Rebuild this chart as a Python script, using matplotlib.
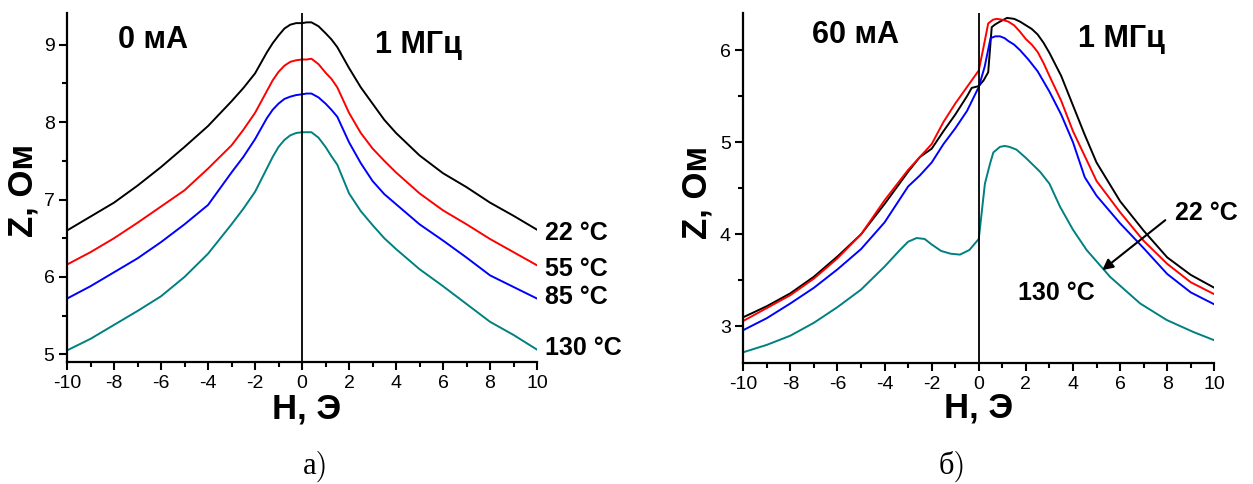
import matplotlib
matplotlib.use("Agg")
import matplotlib.pyplot as plt
from matplotlib.ticker import MultipleLocator

plt.rcParams["font.family"] = ["Liberation Sans", "DejaVu Sans"]
plt.rcParams["axes.unicode_minus"] = False

# panel a: 0 mA, 1 MHz
h_a = [-10, -9, -8, -7, -6, -5, -4, -3, -2.5, -2, -1.5, -1.25, -1, -0.75, -0.5, -0.25, 0,
       0.2, 0.4, 0.7, 1, 1.25, 1.5, 2, 2.5, 3, 3.5, 4, 5, 6, 7, 8, 9, 10]
z_a_22 = [6.60, 6.78, 6.96, 7.18, 7.42, 7.68, 7.95, 8.27, 8.44, 8.63, 8.90, 9.02, 9.12, 9.21,
          9.26, 9.28, 9.28, 9.29, 9.29, 9.24, 9.15, 9.07, 8.97, 8.70, 8.45, 8.24, 8.03, 7.86,
          7.57, 7.34, 7.16, 6.96, 6.79, 6.61]
z_a_55 = [6.16, 6.32, 6.50, 6.70, 6.91, 7.12, 7.40, 7.70, 7.90, 8.12, 8.40, 8.54, 8.65, 8.73,
          8.78, 8.80, 8.81, 8.81, 8.82, 8.75, 8.64, 8.56, 8.45, 8.12, 7.86, 7.66, 7.50, 7.35,
          7.08, 6.86, 6.68, 6.49, 6.32, 6.15]
z_a_85 = [5.72, 5.88, 6.06, 6.24, 6.45, 6.68, 6.93, 7.35, 7.55, 7.78, 8.05, 8.16, 8.24, 8.30,
          8.33, 8.35, 8.36, 8.37, 8.37, 8.32, 8.24, 8.16, 8.07, 7.74, 7.47, 7.24, 7.07, 6.94,
          6.68, 6.47, 6.25, 6.02, 5.87, 5.72]
z_a_130 = [5.05, 5.20, 5.38, 5.56, 5.75, 6.00, 6.30, 6.68, 6.88, 7.10, 7.40, 7.55, 7.68, 7.77,
           7.83, 7.86, 7.87, 7.87, 7.87, 7.80, 7.68, 7.56, 7.45, 7.08, 6.85, 6.67, 6.50, 6.36,
           6.10, 5.88, 5.65, 5.42, 5.25, 5.06]
labels_a = ["22 °C", "55 °C", "85 °C", "130 °C"]

# panel b: 60 mA, 1 MHz
h_b_22 = [-10, -9, -8, -7, -6, -5, -4, -3, -2.5, -2, -1.5, -1, -0.5, -0.3, 0, 0.2, 0.4, 0.55,
          0.7, 0.9, 1.2, 1.5, 1.75, 2, 2.25, 2.5, 2.75, 3, 3.5, 4, 4.5, 5, 6, 7, 8, 9, 10]
z_b_22 = [3.10, 3.22, 3.36, 3.54, 3.76, 4.00, 4.33, 4.68, 4.84, 4.93, 5.12, 5.30, 5.50, 5.59,
          5.61, 5.67, 5.76, 6.25, 6.28, 6.31, 6.35, 6.34, 6.31, 6.27, 6.23, 6.17, 6.08, 5.97,
          5.72, 5.40, 5.08, 4.78, 4.36, 4.04, 3.75, 3.56, 3.42]
h_b_55 = [-10, -9, -8, -7, -6, -5, -4, -3, -2.5, -2, -1.5, -1, -0.5, 0, 0.2, 0.4, 0.6, 0.76,
          1.0, 1.25, 1.5, 1.75, 2, 2.25, 2.5, 2.75, 3, 3.5, 4, 4.5, 5, 6, 7, 8, 9, 10]
z_b_55 = [3.06, 3.20, 3.34, 3.52, 3.74, 4.00, 4.37, 4.70, 4.84, 4.98, 5.22, 5.42, 5.60, 5.78,
          6.03, 6.29, 6.33, 6.34, 6.33, 6.31, 6.27, 6.20, 6.12, 6.06, 5.98, 5.86, 5.72, 5.45,
          5.12, 4.85, 4.58, 4.24, 3.93, 3.68, 3.48, 3.35]
h_b_85 = [-10, -9, -8, -7, -6, -5, -4, -3, -2.5, -2, -1.5, -1, -0.5, 0, 0.25, 0.5, 0.7, 0.9,
          1.1, 1.25, 1.5, 1.75, 2.1, 2.5, 3, 3.5, 4, 4.5, 5, 6, 7, 8, 9, 10]
z_b_85 = [2.96, 3.09, 3.25, 3.42, 3.62, 3.84, 4.13, 4.52, 4.64, 4.78, 4.98, 5.15, 5.34, 5.60,
          5.82, 6.13, 6.15, 6.15, 6.13, 6.10, 6.06, 6.00, 5.90, 5.77, 5.55, 5.30, 5.00, 4.62,
          4.42, 4.12, 3.85, 3.57, 3.37, 3.24]
h_b_130 = [-10, -9, -8, -7, -6, -5, -4, -3.35, -3, -2.64, -2.3, -2, -1.6, -1.2, -0.8, -0.4, 0,
           0.26, 0.48, 0.62, 0.9, 1.1, 1.3, 1.6, 2.0, 2.6, 3.0, 3.45, 4, 4.58, 5.57, 6.85, 7.98,
           9.11, 10]
z_b_130 = [2.72, 2.80, 2.90, 3.04, 3.21, 3.40, 3.65, 3.83, 3.92, 3.96, 3.95, 3.89, 3.82, 3.79,
           3.78, 3.83, 3.95, 4.55, 4.77, 4.89, 4.95, 4.96, 4.95, 4.92, 4.83, 4.68, 4.55, 4.30,
           4.05, 3.83, 3.54, 3.25, 3.07, 2.94, 2.85]

colors = ["black", "#ff0000", "#0000ff", "#008080"]
serif = ["cmr10", "Liberation Serif"]


def style_axes(ax, ylim):
    ax.set_xlim(-10, 10)
    ax.set_ylim(*ylim)
    ax.spines["top"].set_visible(False)
    ax.spines["right"].set_visible(False)
    for s in ("left", "bottom"):
        ax.spines[s].set_linewidth(1.6)
    ax.xaxis.set_major_locator(MultipleLocator(2))
    ax.xaxis.set_minor_locator(MultipleLocator(1))
    ax.yaxis.set_major_locator(MultipleLocator(1))
    ax.yaxis.set_minor_locator(MultipleLocator(0.5))
    ax.tick_params(which="major", direction="out", length=6, width=1.5,
                   labelsize=14, pad=3)
    ax.tick_params(which="minor", direction="out", length=3.5, width=1.5)
    ax.axvline(0, color="black", lw=1.3)


fig = plt.figure(figsize=(12.53, 4.84), dpi=100)
ax1 = fig.add_axes([0.0535, 0.252, 0.3751, 0.721])
ax2 = fig.add_axes([0.5932, 0.2494, 0.3759, 0.7231])

for z, c in zip([z_a_22, z_a_55, z_a_85, z_a_130], colors):
    ax1.plot(h_a, z, color=c, lw=1.4)
style_axes(ax1, (4.9, 9.41))

for h, z, c in zip([h_b_22, h_b_55, h_b_85, h_b_130],
                   [z_b_22, z_b_55, z_b_85, z_b_130], colors):
    ax2.plot(h, z, color=c, lw=1.4)
style_axes(ax2, (2.6, 6.4))

# panel a texts
ax1.text(0.1085, 0.899, "0 мА", fontsize=22, fontweight="bold", va="baseline",
         transform=ax1.transAxes)
ax1.text(0.655, 0.885, "1 МГц", fontsize=22, fontweight="bold", va="baseline",
         transform=ax1.transAxes)
for lab, yy in zip(labels_a, [0.35, 0.246, 0.166, 0.020]):
    ax1.text(1.017, yy, lab, fontsize=18, fontweight="bold", va="baseline",
             transform=ax1.transAxes, clip_on=False)
ax1.text(0.51, -0.163, "Н, Э", fontsize=25, fontweight="bold", ha="center",
         va="baseline", transform=ax1.transAxes)
ax1.text(-0.094, 0.493, "Z, Ом", fontsize=25, fontweight="bold", ha="center",
         va="center", rotation=90, transform=ax1.transAxes)

# panel b texts
ax2.text(0.145, 0.914, "60 мА", fontsize=22, fontweight="bold", va="baseline",
         transform=ax2.transAxes)
ax2.text(0.711, 0.905, "1 МГц", fontsize=22, fontweight="bold", va="baseline",
         transform=ax2.transAxes)
ax2.text(0.9166, 0.409, "22 °C", fontsize=18, fontweight="bold", va="baseline",
         transform=ax2.transAxes, clip_on=False)
ax2.text(0.584, 0.181, "130 °C", fontsize=18, fontweight="bold", va="baseline",
         transform=ax2.transAxes)
ax2.annotate("", xy=(0.762, 0.266), xytext=(0.896, 0.409),
             xycoords="axes fraction", textcoords="axes fraction",
             arrowprops=dict(arrowstyle="-|>", color="black", lw=1.5,
                             mutation_scale=16, shrinkA=0, shrinkB=0))
ax2.text(0.5, -0.156, "Н, Э", fontsize=25, fontweight="bold", ha="center",
         va="baseline", transform=ax2.transAxes)
ax2.text(-0.098, 0.489, "Z, Ом", fontsize=25, fontweight="bold", ha="center",
         va="center", rotation=90, transform=ax2.transAxes)

# panel captions
fig.text(316 / 1253, 1 - 474 / 484, "а)", fontsize=22, family=serif,
         ha="center", va="baseline")
fig.text(952 / 1253, 1 - 474 / 484, "б)", fontsize=22, family=serif,
         ha="center", va="baseline")

fig.savefig("out.png", dpi=100)
